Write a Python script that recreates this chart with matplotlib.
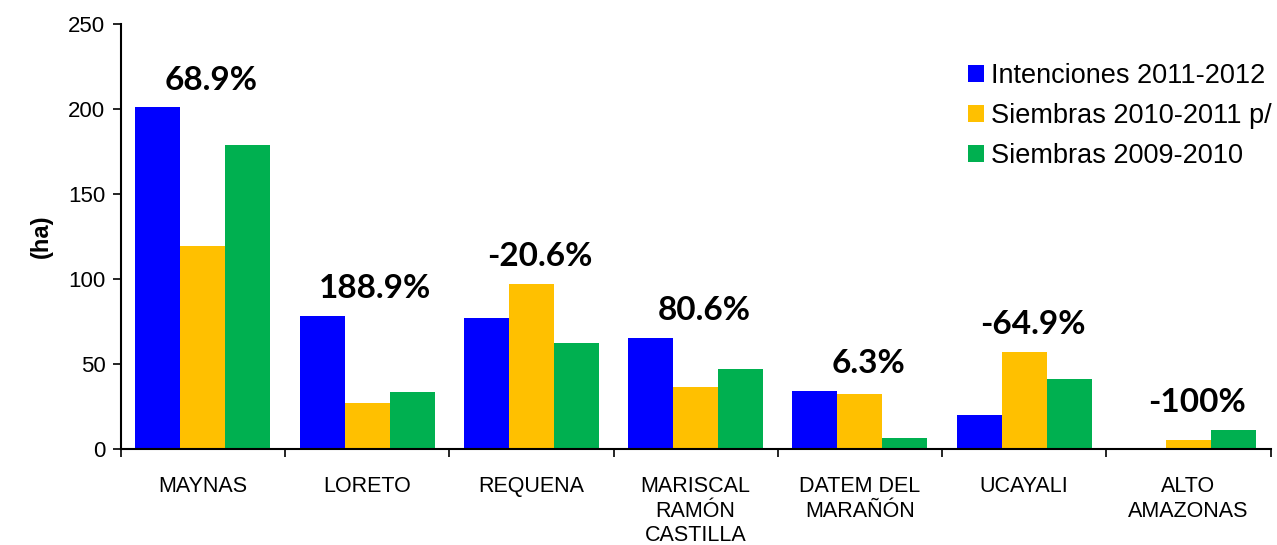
import numpy as np
import matplotlib
matplotlib.use("Agg")
import matplotlib.pyplot as plt

# data
provinces = ["MAYNAS", "LORETO", "REQUENA", "MARISCAL\nRAMÓN\nCASTILLA",
             "DATEM DEL\nMARAÑÓN", "UCAYALI", "ALTO\nAMAZONAS"]
intenciones_2011_2012 = [201, 78, 77, 65, 34, 20, 0]
siembras_2010_2011 = [119, 27, 97, 36, 32, 57, 5]
siembras_2009_2010 = [179, 33, 62, 47, 6, 41, 11]
variation_labels = ["68.9%", "188.9%", "-20.6%", "80.6%", "6.3%", "-64.9%", "-100%"]

series_names = ["Intenciones 2011-2012", "Siembras 2010-2011 p/", "Siembras 2009-2010"]
series_colors = ["#0000FF", "#FFC000", "#00B050"]

plt.rcParams["font.family"] = ["Liberation Sans", "DejaVu Sans"]

fig = plt.figure(figsize=(12.77, 5.45), dpi=100)
ax = fig.add_axes([0.0945, 0.177, 0.9005, 0.779])

x = np.arange(len(provinces))
width = 0.274
all_series = [intenciones_2011_2012, siembras_2010_2011, siembras_2009_2010]
for i, (vals, name, col) in enumerate(zip(all_series, series_names, series_colors)):
    ax.bar(x + (i - 1) * width, vals, width, color=col, label=name, zorder=2)

# variation labels above each group
for xi, lab in enumerate(variation_labels):
    top = max(s[xi] for s in all_series)
    ax.text(xi + 0.05, top + 16, lab, ha="center", va="center",
            fontsize=24, fontweight="bold", family=["Lato", "DejaVu Sans"])

ax.set_xlim(-0.5, len(provinces) - 0.5)
ax.set_ylim(0, 250)
ax.set_yticks(np.arange(0, 251, 50))
ax.tick_params(axis="y", labelsize=16, direction="out", length=6, width=1.2, pad=5)

# category ticks sit between the groups, labels at centres
ax.set_xticks(np.arange(-0.5, len(provinces), 1.0))
ax.set_xticklabels([])
ax.set_xticks(x, minor=True)
ax.set_xticklabels(provinces, minor=True, fontsize=15.5, va="top", linespacing=1.2)
ax.tick_params(axis="x", which="major", direction="out", length=6, width=1.2)
ax.tick_params(axis="x", which="minor", length=0, pad=20)

for side in ["top", "right"]:
    ax.spines[side].set_visible(False)
for side in ["left", "bottom"]:
    ax.spines[side].set_linewidth(1.5)

ax.set_ylabel("(ha)", fontsize=17, fontweight="bold", labelpad=11)

ax.legend(loc="upper right", bbox_to_anchor=(1.01, 0.934), frameon=False, fontsize=19.5,
          handlelength=0.6, handleheight=0.6, handletextpad=0.25, labelspacing=0.52,
          borderaxespad=0)

fig.savefig("out.png", dpi=100)
